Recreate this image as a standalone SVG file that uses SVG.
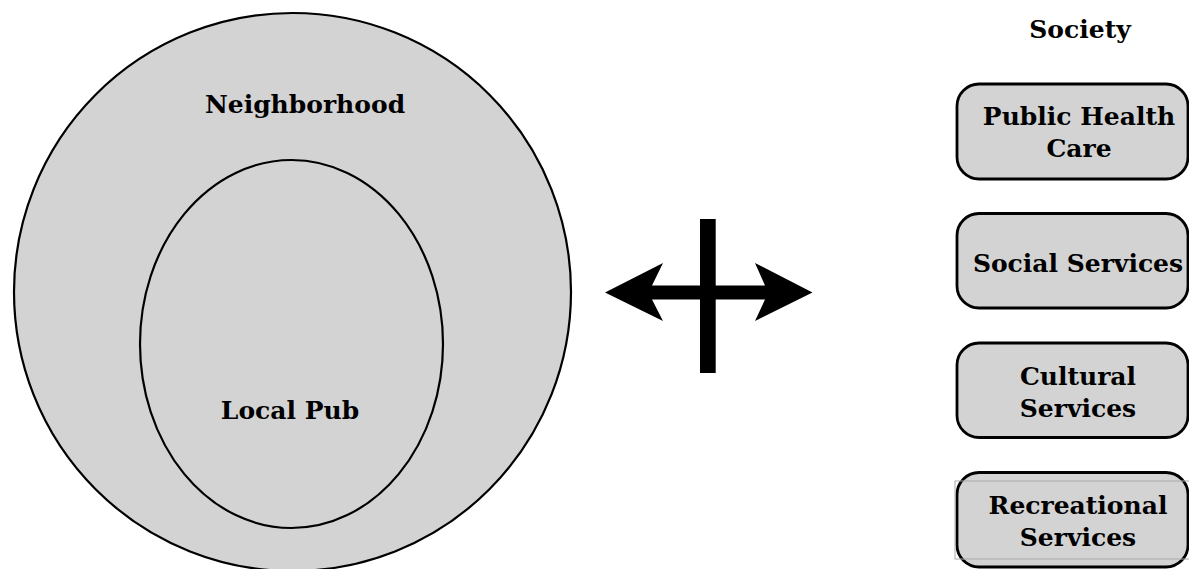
<svg xmlns="http://www.w3.org/2000/svg" width="1189" height="569" viewBox="0 0 1189 569">
<style>
.shape{fill:#d3d3d3;stroke:#000;stroke-width:2.2}
.box{fill:#d3d3d3;stroke:#000;stroke-width:2.8}
text{font-family:"DejaVu Serif","Liberation Serif",serif;font-weight:bold;font-size:25px;fill:#000;text-anchor:middle}
</style>
<rect width="1189" height="569" fill="#fff"/>
<g id="neighborhood">
<ellipse class="shape" cx="292.5" cy="292" rx="278.5" ry="279"/>
<text x="305" y="113">Neighborhood</text>
</g>
<g id="local-pub">
<ellipse class="shape" cx="291.5" cy="344" rx="151.5" ry="184"/>
<text x="290" y="419">Local Pub</text>
</g>
<g id="connectors">
<polygon points="605,292.5 663,263 652,285.5 765,285.5 755,263 812.5,292.5 755,321 765,299.5 652,299.5 663,321" fill="#000"/>
<rect x="700" y="219" width="15.7" height="154" fill="#000"/>
</g>
<g id="society">
<text x="1080" y="38">Society</text>
</g>
<g id="public-health-care">
<rect class="box" x="957" y="84" width="231" height="95" rx="22"/>
<text x="1079" y="125">Public Health</text>
<text x="1079" y="157">Care</text>
</g>
<g id="social-services">
<rect class="box" x="957" y="213.5" width="231" height="94.5" rx="22"/>
<text x="1078" y="272">Social Services</text>
</g>
<g id="cultural-services">
<rect class="box" x="957" y="343" width="231" height="94.5" rx="22"/>
<text x="1078" y="385">Cultural</text>
<text x="1078" y="417">Services</text>
</g>
<g id="recreational-services">
<rect class="box" x="957" y="472.5" width="231" height="94.5" rx="22"/>
<rect x="955" y="481" width="236" height="78" fill="none" stroke="#aaa" stroke-width="1"/>
<text x="1078" y="514">Recreational</text>
<text x="1078" y="546">Services</text>
</g>
</svg>
